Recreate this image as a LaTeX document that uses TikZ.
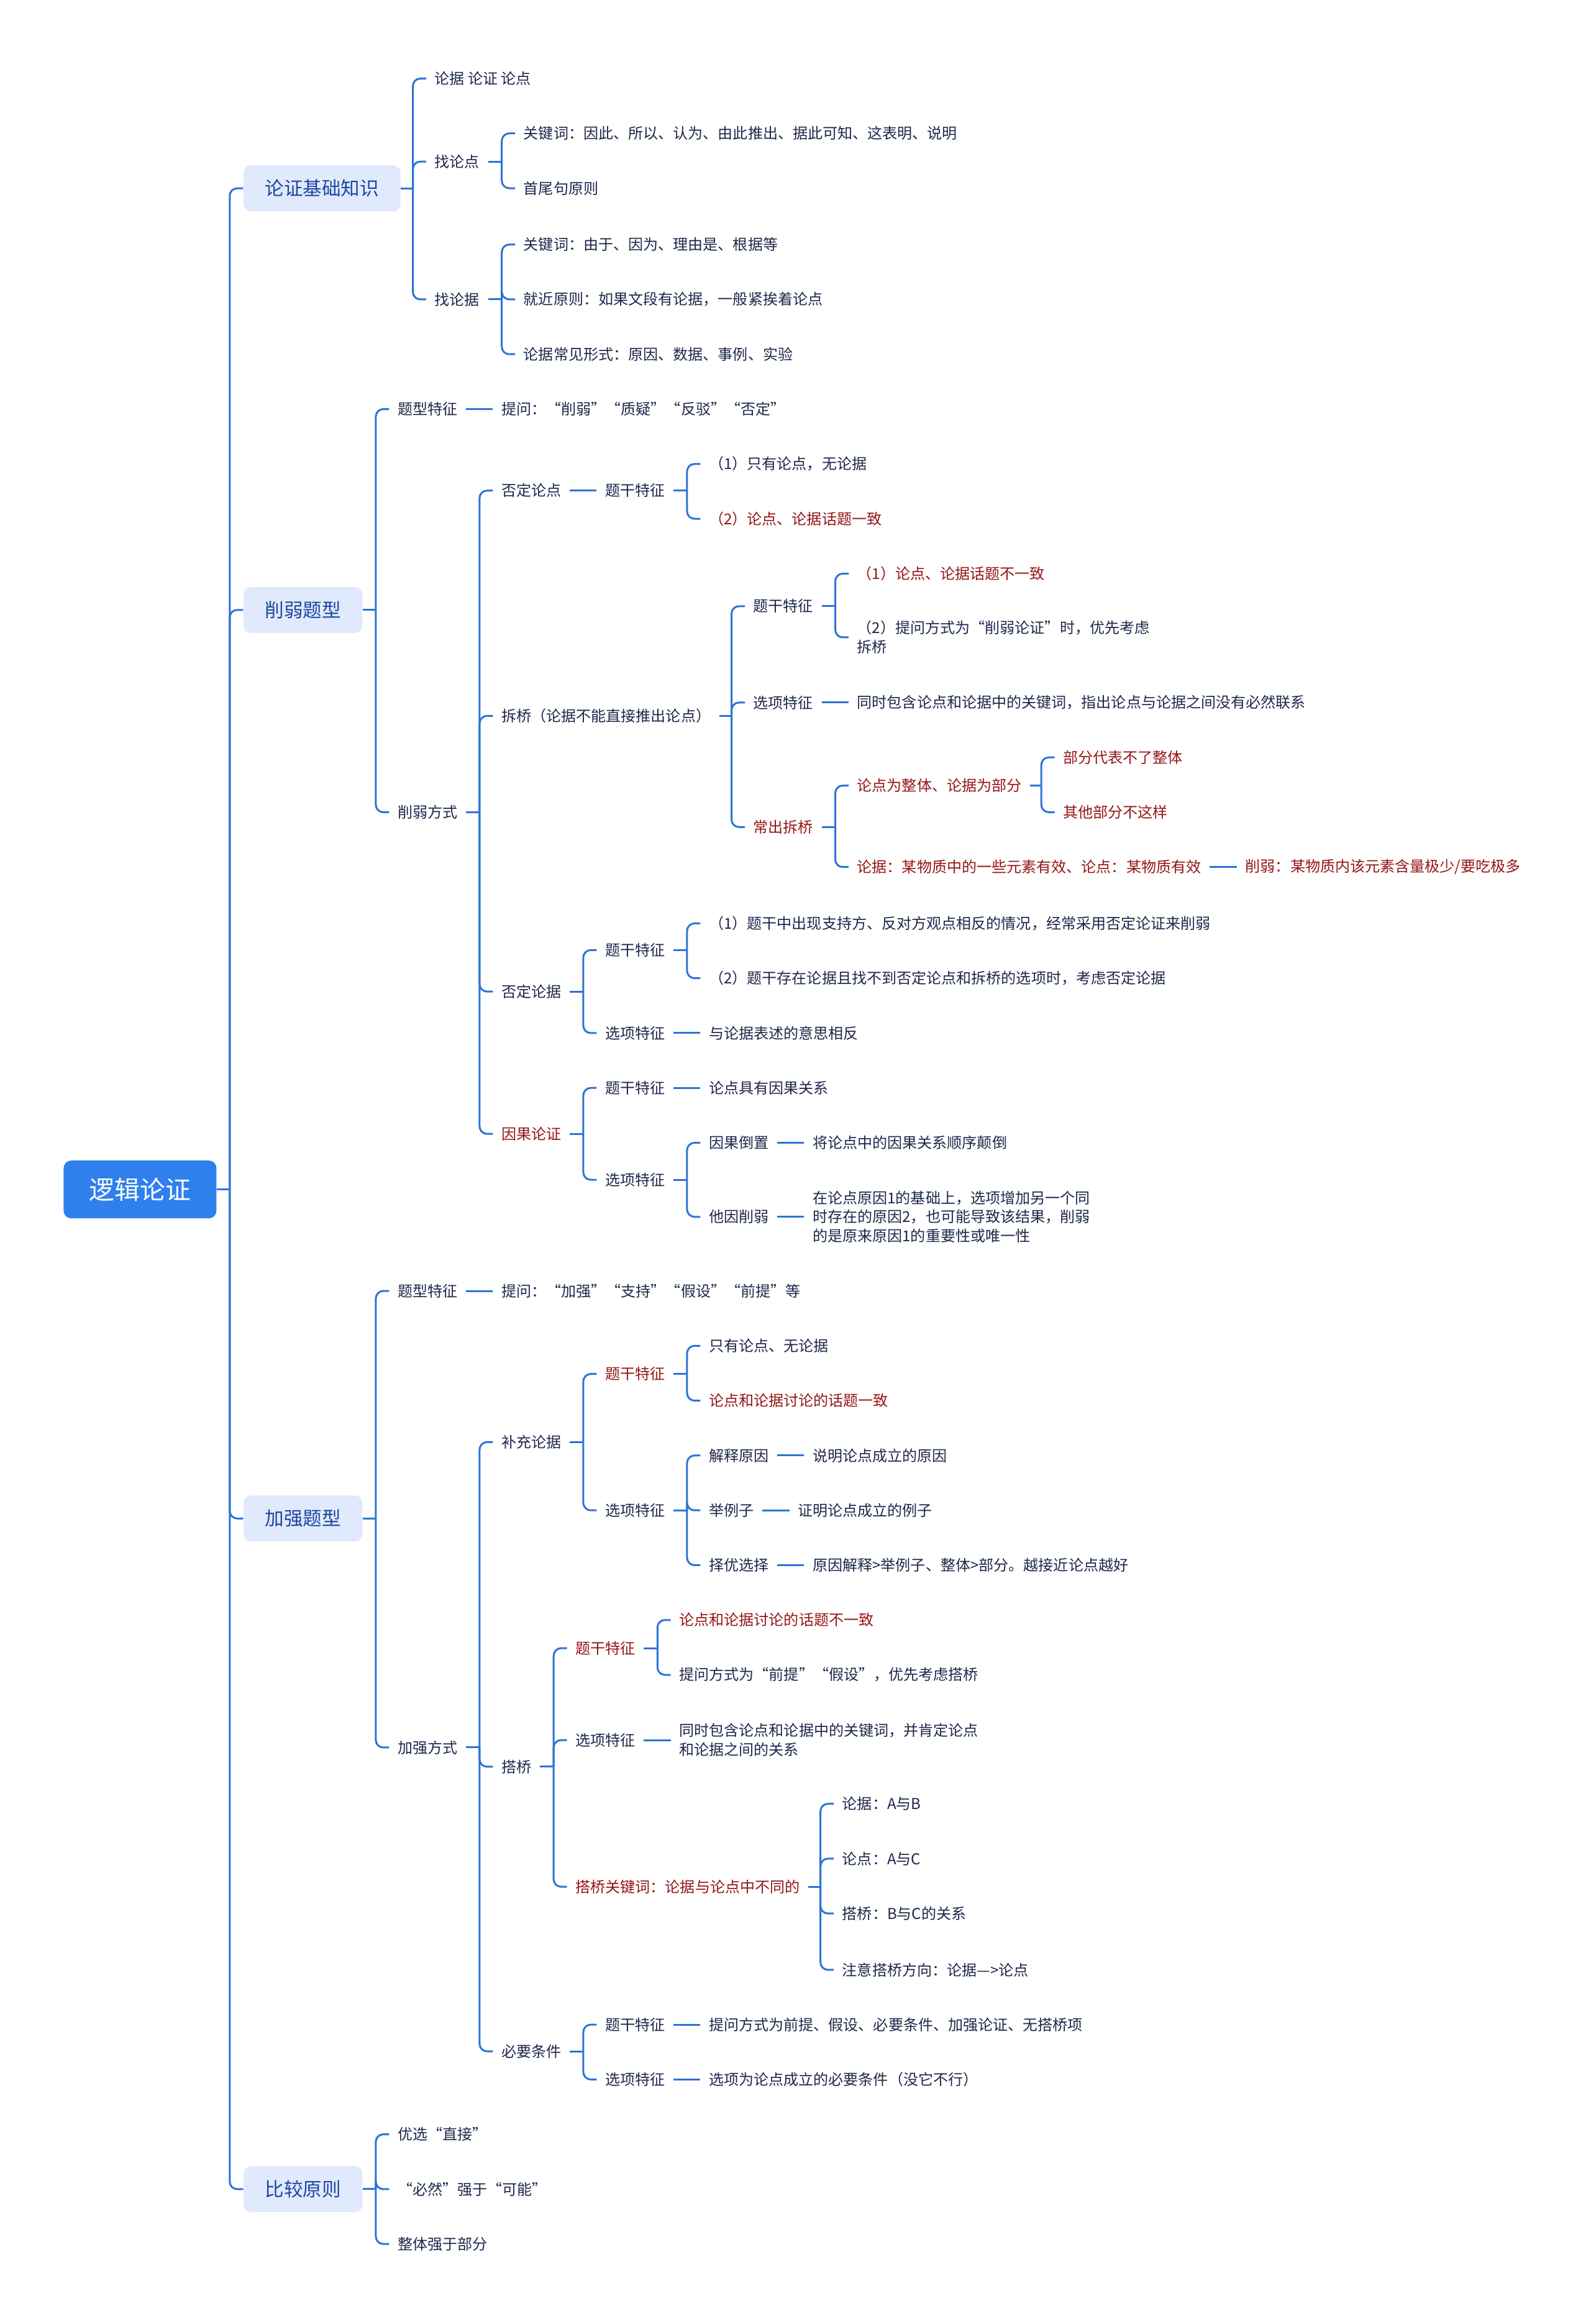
\documentclass[tikz,border=0pt]{standalone}
\usepackage{fontspec}
\setmainfont{Noto Sans CJK SC}
\usetikzlibrary{calc,positioning}
\definecolor{rootblue}{RGB}{47,128,237}
\definecolor{topicfill}{RGB}{225,233,252}
\definecolor{topictext}{RGB}{28,72,160}
\definecolor{ink}{RGB}{30,40,75}
\definecolor{redink}{RGB}{150,22,22}
\definecolor{lineblue}{RGB}{45,115,215}

\begin{document}
\begin{tikzpicture}[x=0.2386mm,y=-0.2386mm,
root/.style={fill=rootblue,text=white,rounded corners=1.2mm,font=\fontsize{11.6}{14}\selectfont,minimum width=24.6mm,minimum height=9.3mm},
topic/.style={anchor=west,fill=topicfill,text=topictext,rounded corners=1.2mm,font=\fontsize{8.7}{11}\selectfont,inner xsep=3.46mm,minimum height=7.4mm},
leaf/.style={anchor=west,inner xsep=1.3mm,xshift=-1.3mm,text=ink,font=\fontsize{6.85}{8.8}\selectfont,align=left},
redleaf/.style={leaf,text=redink},
link/.style={draw=lineblue,line width=0.3mm,rounded corners=1.2mm}]
\fill[white](0,0)rectangle(1073,1568);
\useasboundingbox(0,0)rectangle(1073,1568);

\node[root](R)at(94.5,802.5){逻辑论证};
\node[topic](A)at(164,127){论证基础知识};
\node[topic](B)at(164,411.5){削弱题型};
\node[topic](C)at(164,1024.5){加强题型};
\node[topic](D)at(164,1477){比较原则};

\node[leaf](A1)at(293,53){论据 论证 论点};
\node[leaf](A2)at(293,109){找论点};
\node[leaf](A3)at(293,202){找论据};
\node[leaf](A21)at(353,90){关键词：因此、所以、认为、由此推出、据此可知、这表明、说明};
\node[leaf](A22)at(353,127){首尾句原则};
\node[leaf](A31)at(353,165){关键词：由于、因为、理由是、根据等};
\node[leaf](A32)at(353,202){就近原则：如果文段有论据，一般紧挨着论点};
\node[leaf](A33)at(353,239){论据常见形式：原因、数据、事例、实验};

\node[leaf](B1)at(268,276){题型特征};
\node[leaf](B11)at(338,276){提问：“削弱”“质疑”“反驳”“否定”};
\node[leaf](B2)at(268,548){削弱方式};
\node[leaf](B21)at(338,331){否定论点};
\node[leaf](B211)at(408,331){题干特征};
\node[leaf](B2111)at(478,313){（1）只有论点，无论据};
\node[redleaf](B2112)at(478,350){（2）论点、论据话题一致};
\node[leaf](B22)at(338,483){拆桥（论据不能直接推出论点）};
\node[leaf](B221)at(508,409){题干特征};
\node[redleaf](B2211)at(578,387){（1）论点、论据话题不一致};
\node[leaf](B2212)at(578,430){（2）提问方式为“削弱论证”时，优先考虑\\拆桥};
\node[leaf](B222)at(508,474){选项特征};
\node[leaf](B2221)at(578,474){同时包含论点和论据中的关键词，指出论点与论据之间没有必然联系};
\node[redleaf](B223)at(508,558){常出拆桥};
\node[redleaf](B2231)at(578,530){论点为整体、论据为部分};
\node[redleaf](B22311)at(717,511){部分代表不了整体};
\node[redleaf](B22312)at(717,548){其他部分不这样};
\node[redleaf](B2232)at(578,585){论据：某物质中的一些元素有效、论点：某物质有效};
\node[redleaf](B22321)at(840,585){削弱：某物质内该元素含量极少/要吃极多};
\node[leaf](B23)at(338,669){否定论据};
\node[leaf](B231)at(408,641){题干特征};
\node[leaf](B2311)at(478,623){（1）题干中出现支持方、反对方观点相反的情况，经常采用否定论证来削弱};
\node[leaf](B2312)at(478,660){（2）题干存在论据且找不到否定论点和拆桥的选项时，考虑否定论据};
\node[leaf](B232)at(408,697){选项特征};
\node[leaf](B2321)at(478,697){与论据表述的意思相反};
\node[redleaf](B24)at(338,765){因果论证};
\node[leaf](B241)at(408,734){题干特征};
\node[leaf](B2411)at(478,734){论点具有因果关系};
\node[leaf](B242)at(408,796){选项特征};
\node[leaf](B2421)at(478,771){因果倒置};
\node[leaf](B24211)at(548,771){将论点中的因果关系顺序颠倒};
\node[leaf](B2422)at(478,821){他因削弱};
\node[leaf](B24221)at(548,821){在论点原因1的基础上，选项增加另一个同\\时存在的原因2，也可能导致该结果，削弱\\的是原来原因1的重要性或唯一性};

\node[leaf](C1)at(268,871){题型特征};
\node[leaf](C11)at(338,871){提问：“加强”“支持”“假设”“前提”等};
\node[leaf](C2)at(268,1179){加强方式};
\node[leaf](C21)at(338,973){补充论据};
\node[redleaf](C211)at(408,927){题干特征};
\node[leaf](C2111)at(478,908){只有论点、无论据};
\node[redleaf](C2112)at(478,945){论点和论据讨论的话题一致};
\node[leaf](C212)at(408,1019){选项特征};
\node[leaf](C2121)at(478,982){解释原因};
\node[leaf](C2122)at(478,1019){举例子};
\node[leaf](C2123)at(478,1056){择优选择};
\node[leaf](C21211)at(548,982){说明论点成立的原因};
\node[leaf](C21221)at(538,1019){证明论点成立的例子};
\node[leaf](C21231)at(548,1056){原因解释>举例子、整体>部分。越接近论点越好};
\node[leaf](C22)at(338,1192){搭桥};
\node[redleaf](C221)at(388,1112){题干特征};
\node[redleaf](C2211)at(458,1093){论点和论据讨论的话题不一致};
\node[leaf](C2212)at(458,1130){提问方式为“前提”“假设”，优先考虑搭桥};
\node[leaf](C222)at(388,1174){选项特征};
\node[leaf](C2221)at(458,1174){同时包含论点和论据中的关键词，并肯定论点\\和论据之间的关系};
\node[redleaf](C223)at(388,1273){搭桥关键词：论据与论点中不同的};
\node[leaf](C2231)at(568,1217){论据：A与B};
\node[leaf](C2232)at(568,1254){论点：A与C};
\node[leaf](C2233)at(568,1291){搭桥：B与C的关系};
\node[leaf](C2234)at(568,1329){注意搭桥方向：论据—>论点};
\node[leaf](C23)at(338,1384){必要条件};
\node[leaf](C231)at(408,1366){题干特征};
\node[leaf](C2311)at(478,1366){提问方式为前提、假设、必要条件、加强论证、无搭桥项};
\node[leaf](C232)at(408,1403){选项特征};
\node[leaf](C2321)at(478,1403){选项为论点成立的必要条件（没它不行）};

\node[leaf](D1)at(268,1440){优选“直接”};
\node[leaf](D2)at(268,1477){“必然”强于“可能”};
\node[leaf](D3)at(268,1514){整体强于部分};

\draw[link](R.east)--($(R.east -| A.west)+(-9,0)$)coordinate(r);
\draw[link](r)|-(A.west);\draw[link](r)|-(B.west);\draw[link](r)|-(C.west);\draw[link](r)|-(D.west);

\draw[link](A.east)--($(A.east -| A1.west)+(-9,0)$)coordinate(a);
\draw[link](a)|-(A1.west);\draw[link](a)|-(A2.west);\draw[link](a)|-(A3.west);
\draw[link](A2.east)--($(A2.east -| A21.west)+(-9,0)$)coordinate(a2);
\draw[link](a2)|-(A21.west);\draw[link](a2)|-(A22.west);
\draw[link](A3.east)--($(A3.east -| A31.west)+(-9,0)$)coordinate(a3);
\draw[link](a3)|-(A31.west);\draw[link](a3)|-(A32.west);\draw[link](a3)|-(A33.west);

\draw[link](B.east)--($(B.east -| B1.west)+(-9,0)$)coordinate(b);
\draw[link](b)|-(B1.west);\draw[link](b)|-(B2.west);
\draw[link](B1.east)--(B11.west);
\draw[link](B2.east)--($(B2.east -| B21.west)+(-9,0)$)coordinate(b2);
\draw[link](b2)|-(B21.west);\draw[link](b2)|-(B22.west);\draw[link](b2)|-(B23.west);\draw[link](b2)|-(B24.west);
\draw[link](B21.east)--(B211.west);
\draw[link](B211.east)--($(B211.east -| B2111.west)+(-9,0)$)coordinate(b211);
\draw[link](b211)|-(B2111.west);\draw[link](b211)|-(B2112.west);
\draw[link](B22.east)--($(B22.east -| B221.west)+(-9,0)$)coordinate(b22);
\draw[link](b22)|-(B221.west);\draw[link](b22)|-(B222.west);\draw[link](b22)|-(B223.west);
\draw[link](B221.east)--($(B221.east -| B2211.west)+(-9,0)$)coordinate(b221);
\draw[link](b221)|-(B2211.west);\draw[link](b221)|-(B2212.west);
\draw[link](B222.east)--(B2221.west);
\draw[link](B223.east)--($(B223.east -| B2231.west)+(-9,0)$)coordinate(b223);
\draw[link](b223)|-(B2231.west);\draw[link](b223)|-(B2232.west);
\draw[link](B2231.east)--($(B2231.east -| B22311.west)+(-9,0)$)coordinate(b2231);
\draw[link](b2231)|-(B22311.west);\draw[link](b2231)|-(B22312.west);
\draw[link](B2232.east)--(B22321.west);
\draw[link](B23.east)--($(B23.east -| B231.west)+(-9,0)$)coordinate(b23);
\draw[link](b23)|-(B231.west);\draw[link](b23)|-(B232.west);
\draw[link](B231.east)--($(B231.east -| B2311.west)+(-9,0)$)coordinate(b231);
\draw[link](b231)|-(B2311.west);\draw[link](b231)|-(B2312.west);
\draw[link](B232.east)--(B2321.west);
\draw[link](B24.east)--($(B24.east -| B241.west)+(-9,0)$)coordinate(b24);
\draw[link](b24)|-(B241.west);\draw[link](b24)|-(B242.west);
\draw[link](B241.east)--(B2411.west);
\draw[link](B242.east)--($(B242.east -| B2421.west)+(-9,0)$)coordinate(b242);
\draw[link](b242)|-(B2421.west);\draw[link](b242)|-(B2422.west);
\draw[link](B2421.east)--(B24211.west);\draw[link](B2422.east)--(B24221.west);

\draw[link](C.east)--($(C.east -| C1.west)+(-9,0)$)coordinate(c);
\draw[link](c)|-(C1.west);\draw[link](c)|-(C2.west);
\draw[link](C1.east)--(C11.west);
\draw[link](C2.east)--($(C2.east -| C21.west)+(-9,0)$)coordinate(c2);
\draw[link](c2)|-(C21.west);\draw[link](c2)|-(C22.west);\draw[link](c2)|-(C23.west);
\draw[link](C21.east)--($(C21.east -| C211.west)+(-9,0)$)coordinate(c21);
\draw[link](c21)|-(C211.west);\draw[link](c21)|-(C212.west);
\draw[link](C211.east)--($(C211.east -| C2111.west)+(-9,0)$)coordinate(c211);
\draw[link](c211)|-(C2111.west);\draw[link](c211)|-(C2112.west);
\draw[link](C212.east)--($(C212.east -| C2121.west)+(-9,0)$)coordinate(c212);
\draw[link](c212)|-(C2121.west);\draw[link](c212)|-(C2122.west);\draw[link](c212)|-(C2123.west);
\draw[link](C2121.east)--(C21211.west);\draw[link](C2122.east)--(C21221.west);\draw[link](C2123.east)--(C21231.west);
\draw[link](C22.east)--($(C22.east -| C221.west)+(-9,0)$)coordinate(c22);
\draw[link](c22)|-(C221.west);\draw[link](c22)|-(C222.west);\draw[link](c22)|-(C223.west);
\draw[link](C221.east)--($(C221.east -| C2211.west)+(-9,0)$)coordinate(c221);
\draw[link](c221)|-(C2211.west);\draw[link](c221)|-(C2212.west);
\draw[link](C222.east)--(C2221.west);
\draw[link](C223.east)--($(C223.east -| C2231.west)+(-9,0)$)coordinate(c223);
\draw[link](c223)|-(C2231.west);\draw[link](c223)|-(C2232.west);\draw[link](c223)|-(C2233.west);\draw[link](c223)|-(C2234.west);
\draw[link](C23.east)--($(C23.east -| C231.west)+(-9,0)$)coordinate(c23);
\draw[link](c23)|-(C231.west);\draw[link](c23)|-(C232.west);
\draw[link](C231.east)--(C2311.west);\draw[link](C232.east)--(C2321.west);

\draw[link](D.east)--($(D.east -| D1.west)+(-9,0)$)coordinate(d);
\draw[link](d)|-(D1.west);\draw[link](d)|-(D2.west);\draw[link](d)|-(D3.west);
\end{tikzpicture}
\end{document}
